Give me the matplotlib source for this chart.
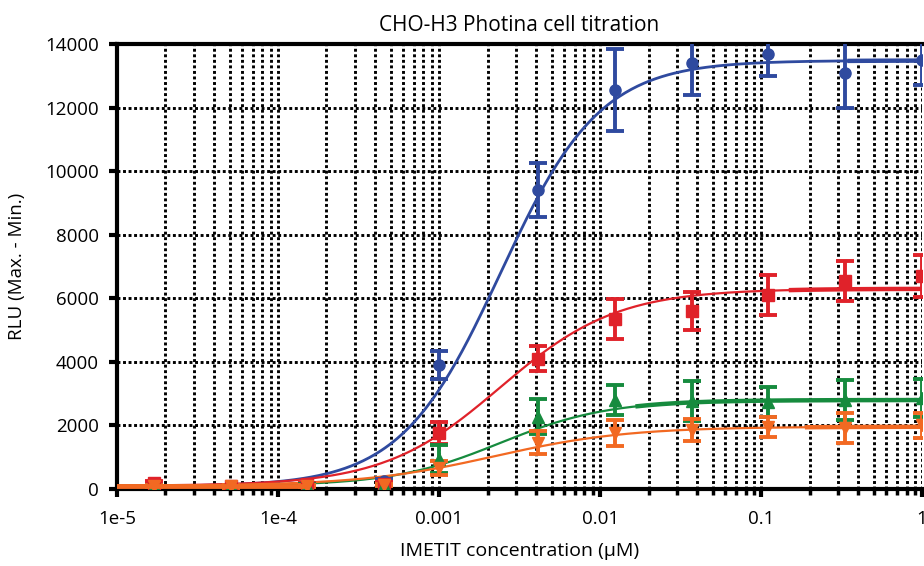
import numpy as np
import matplotlib
matplotlib.use("Agg")
import matplotlib.pyplot as plt

plt.rcParams['font.family'] = ['Open Sans', 'DejaVu Sans']

# concentrations (uM)
conc = [1.69e-5, 5.08e-5, 1.52e-4, 4.57e-4, 1.0e-3, 4.12e-3, 0.0123, 0.037, 0.111, 0.333, 1.0]

blue_y = [130, 100, 150, 250, 3900, 9400, 12550, 13400, 13700, 13100, 13500]
blue_err = [60, 40, 50, 80, 450, 850, 1300, 1000, 700, 1100, 800]
red_y = [180, 100, 150, 160, 1760, 4100, 5350, 5600, 6100, 6550, 6700]
red_err = [60, 40, 50, 70, 350, 400, 620, 600, 620, 620, 650]
green_y = [100, 90, 110, 120, 950, 2270, 2800, 2770, 2740, 2800, 2850]
green_err = [40, 40, 40, 40, 450, 550, 470, 620, 480, 620, 600]
orange_y = [100, 80, 100, 120, 660, 1450, 1760, 1850, 1950, 1920, 2000]
orange_err = [40, 40, 40, 40, 230, 360, 420, 350, 300, 480, 400]

# 4PL fit parameters: bottom, top, EC50, hill
blue_fit = [80, 13480, 0.0024, 1.4]
red_fit = [100, 6300, 0.0024, 1.2]
green_fit = [100, 2800, 0.0024, 1.3]
orange_fit = [100, 1960, 0.0022, 1.05]

series = [
    (blue_y, blue_err, blue_fit, '#2f4a9f', 'o', 0.35, 2.0),
    (red_y, red_err, red_fit, '#e0222a', 's', 0.15, 1.6),
    (green_y, green_err, green_fit, '#168b3e', '^', 0.017, 1.6),
    (orange_y, orange_err, orange_fit, '#f26922', 'v', 0.19, 1.6),
]

fig = plt.figure(figsize=(9.24, 5.66), dpi=100)
ax = fig.add_axes([0.1266, 0.136, 0.8714, 0.7863])

xs = np.logspace(-5, 0, 400)
for y, err, fit, col, mk, flat, lw in series:
    b, t, ec, h = fit
    curve = b + (t - b) / (1 + (ec / xs) ** h)
    ax.plot(xs, curve, color=col, lw=lw, zorder=3)
    m = xs >= flat
    ax.plot(xs[m], curve[m], color=col, lw=3.2, zorder=3)
    ax.errorbar(conc, y, yerr=err, fmt=mk, color=col, ms=8, elinewidth=2.8,
                capsize=6.5, capthick=2.8, zorder=4)

# thick baseline segment at the low end
ax.plot([1e-5, 1.4e-4], [100, 100], color='#f26922', lw=3.5, zorder=5)

ax.set_xscale('log')
ax.set_xlim(1e-5, 1)
ax.set_ylim(0, 14000)
ax.set_yticks(np.arange(0, 14001, 2000))
ax.set_xticks([1e-5, 1e-4, 1e-3, 1e-2, 1e-1, 1])
ax.set_xticklabels(['1e-5', '1e-4', '0.001', '0.01', '0.1', '1'])

ax.grid(True, which='major', color='black', linestyle=(0, (1, 0.9)), lw=2.1)
ax.grid(True, which='minor', axis='x', color='black', linestyle=(0, (1, 0.9)), lw=2.1)
ax.set_axisbelow(True)

for s in ['left', 'bottom', 'top']:
    ax.spines[s].set_linewidth(3)
ax.spines['right'].set_visible(False)
ax.tick_params(which='major', direction='out', length=6, width=3, labelsize=13.5, pad=7)
ax.tick_params(which='minor', direction='out', length=4, width=2.5)
ax.tick_params(axis='x', which='major', pad=9)

ax.set_title('CHO-H3 Photina cell titration', fontsize=15, pad=9)
ax.set_xlabel('IMETIT concentration (µM)', fontsize=14, labelpad=10)
ax.set_ylabel('RLU (Max. - Min.)', fontsize=13.5, labelpad=14)

fig.savefig('out.png', dpi=100)
